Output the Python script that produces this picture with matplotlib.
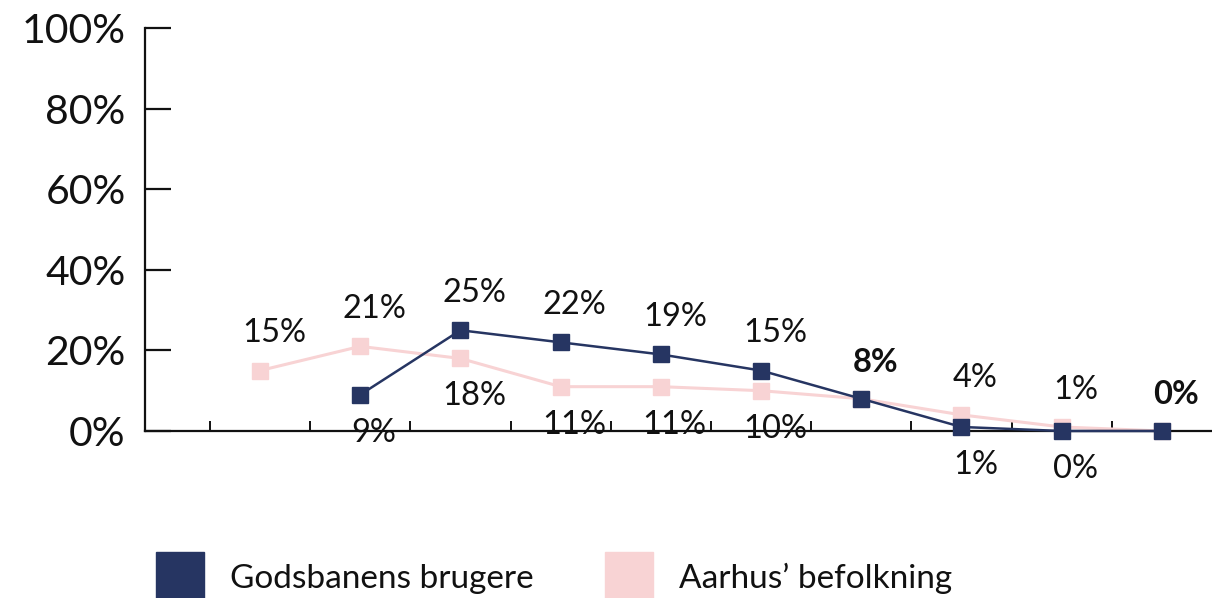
import matplotlib
matplotlib.use("Agg")
import matplotlib.pyplot as plt
from matplotlib.lines import Line2D
import numpy as np

plt.rcParams['font.family'] = ['Lato', 'DejaVu Sans']

categories = list(range(10))
godsbanen = [None, 9, 25, 22, 19, 15, 8, 1, 0, 0]
aarhus = [15, 21, 18, 11, 11, 10, 8, 4, 1, 0]
# label placement: 'a' above, 'b' below, 'ab' bold above, None no label
god_pos = [None, 'b', 'a', 'a', 'a', 'a', 'ab', 'b', 'b', 'ab']
aar_pos = ['a', 'a', 'b', 'b', 'b', 'b', None, 'a', 'a', None]
yticks = [0, 20, 40, 60, 80, 100]
ytick_labels = ['0%', '20%', '40%', '60%', '80%', '100%']
legend_labels = ['Godsbanens brugere', 'Aarhus\u2019 befolkning']

NAVY = '#263562'
PINK = '#f8d3d4'

W, H = 1212, 598
fig = plt.figure(figsize=(W / 100, H / 100), dpi=100)
ax = fig.add_axes([145 / W, (H - 431) / H, (1212 - 145) / W, (431 - 28) / H])

x = np.array(categories, dtype=float)
g = np.array([np.nan if v is None else v for v in godsbanen], dtype=float)
a = np.array(aarhus, dtype=float)

ax.plot(x, a, color=PINK, lw=2.2, marker='s', ms=11.5, mec=PINK, mfc=PINK, zorder=2,
        clip_on=False)
ax.plot(x, g, color=NAVY, lw=1.8, marker='s', ms=11.5, mec=NAVY, mfc=NAVY, zorder=3,
        clip_on=False)

def label(xs, ys, poss):
    for xi, yi, p in zip(xs, ys, poss):
        if p is None or np.isnan(yi):
            continue
        bold = p == 'ab'
        if p.startswith('a'):
            off, va = 16, 'bottom'
        else:
            off, va = -16.5, 'top'
        ax.annotate(f"{int(yi)}%", (xi, yi), xytext=(10, off), textcoords='offset points',
                    ha='center', va=va, fontsize=23.5,
                    fontweight='bold' if bold else 'normal', color='#111111',
                    annotation_clip=False, zorder=5)

label(x, a, aar_pos)
label(x, g, god_pos)

ax.set_xlim(-1.148, 9.5)
ax.set_ylim(0, 100)
for s in ['top', 'right']:
    ax.spines[s].set_visible(False)
for s in ['left', 'bottom']:
    ax.spines[s].set_linewidth(1.6)
    ax.spines[s].set_color('#111111')

ax.set_yticks(yticks)
ax.set_yticklabels(ytick_labels)
ax.tick_params(axis='y', direction='in', length=19, width=1.6, color='#111111',
               labelsize=29.5, pad=14, labelcolor='#111111')
ax.set_xticks(np.arange(-0.5, 9, 1.0))
ax.set_xticklabels([])
ax.tick_params(axis='x', direction='in', length=7, width=1.4, color='#111111')

handles = [Line2D([], [], ls='', marker='s', ms=34, color=NAVY),
           Line2D([], [], ls='', marker='s', ms=34, color=PINK)]
leg = fig.legend(handles, legend_labels, loc='center left',
                 bbox_to_anchor=(130 / W, 1 - 578 / H), ncol=2, frameon=False,
                 fontsize=24, handletextpad=0.81, columnspacing=2.15, handlelength=1.4,
                 borderpad=0.3, labelcolor='#111111')

fig.savefig('out.png', dpi=100)
